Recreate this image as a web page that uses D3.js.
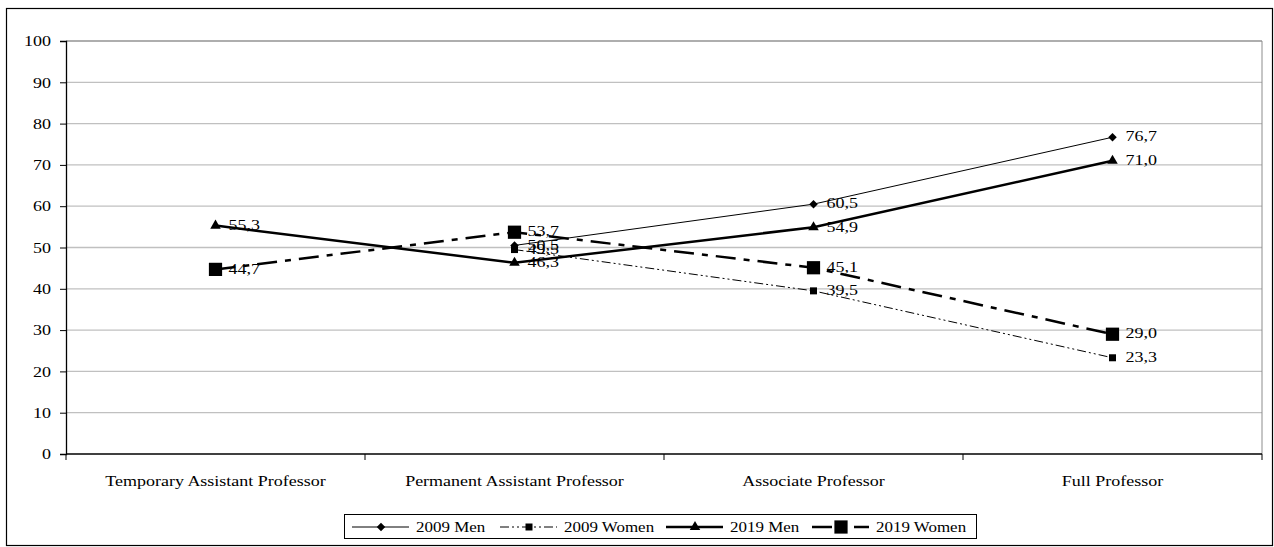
<!DOCTYPE html>
<html><head><meta charset="utf-8">
<script src="https://cdn.jsdelivr.net/npm/d3@7"></script>
<style>body{margin:0;background:#fff}svg{display:block}text{font-family:"Liberation Serif","Times New Roman",serif;fill:#000}</style>
</head><body><svg id="c" width="1274" height="547"></svg>
<script>
const categories = ["Temporary Assistant Professor","Permanent Assistant Professor","Associate Professor","Full Professor"];
const men2009 = [null, 50.5, 60.5, 76.7];
const women2009 = [null, 49.5, 39.5, 23.3];
const men2019 = [55.3, 46.3, 54.9, 71.0];
const women2019 = [44.7, 53.7, 45.1, 29.0];
const yTicks = [0,10,20,30,40,50,60,70,80,90,100];
const seriesNames = ["2009 Men","2009 Women","2019 Men","2019 Women"];

const series = [
  {name: seriesNames[0], values: men2009, width: 1, dash: null, marker: "diamond", size: 36},
  {name: seriesNames[1], values: women2009, width: 1, dash: "9,3,2,3,2,3", marker: "square", size: 49},
  {name: seriesNames[2], values: men2019, width: 2.5, dash: null, marker: "triangle", size: 48},
  {name: seriesNames[3], values: women2019, width: 2.5, dash: "20,8,6,8", marker: "square", size: 175}
];

const FS = "15px";
const svg = d3.select("#c");
const L = 66, R = 1262, T = 41, B = 454;

function stext(g, x0, y0, str, anchor, sx) {
  return g.append("text").attr("transform", `translate(${x0},${y0}) scale(${sx || 1.2},1)`)
    .attr("text-anchor", anchor || "start").attr("dy","0.35em").style("font-size",FS).text(str);
}

svg.append("rect").attr("x",6.5).attr("y",8.5).attr("width",1266).attr("height",537)
  .attr("fill","none").attr("stroke","#000").attr("stroke-width",1.2);

const x = d3.scaleBand().domain(categories).range([L,R]).paddingInner(0).paddingOuter(0);
const y = d3.scaleLinear().domain([0,100]).range([B,T]);

// gridlines
svg.append("g").selectAll("line").data(yTicks.filter(d=>d>0)).join("line")
  .attr("x1",L).attr("x2",R).attr("y1",d=>y(d)).attr("y2",d=>y(d))
  .attr("stroke","#c0c0c0").attr("stroke-width",1.3);
svg.append("line").attr("x1",R).attr("x2",R).attr("y1",T).attr("y2",B).attr("stroke","#8c8c8c").attr("stroke-width",1);
svg.append("line").attr("x1",L).attr("x2",R).attr("y1",T).attr("y2",T).attr("stroke","#8c8c8c").attr("stroke-width",1);

// y axis
const yAxis = d3.axisLeft(y).tickValues(yTicks).tickSize(6).tickFormat("");
const gy = svg.append("g").attr("transform",`translate(${L},0)`).call(yAxis);
gy.select(".domain").attr("stroke","#000").attr("stroke-width",1.3);
gy.selectAll(".tick line").attr("stroke","#000");
const gyl = svg.append("g");
yTicks.forEach(t => stext(gyl, L-15, y(t), d3.format("d")(t), "end"));

// x axis
const boundaries = d3.range(categories.length+1).map(i => L + i*x.bandwidth());
const gx = svg.append("g");
gx.append("line").attr("x1",L).attr("x2",R).attr("y1",B).attr("y2",B).attr("stroke","#000").attr("stroke-width",1.5);
gx.selectAll("line.t").data(boundaries).join("line").attr("class","t")
  .attr("x1",d=>d).attr("x2",d=>d).attr("y1",B).attr("y2",B+6).attr("stroke","#000");
categories.forEach(c => stext(gx, x(c)+x.bandwidth()/2, B+27, c, "middle"));

const symType = {diamond: d3.symbolSquare, square: d3.symbolSquare, triangle: d3.symbolTriangle};
const rot = m => m === "diamond" ? " rotate(45)" : "";
const cx = c => x(c)+x.bandwidth()/2;

series.forEach(s => {
  const pts = categories.map((c,i)=>({c, v:s.values[i]})).filter(p=>p.v!=null);
  const line = d3.line().x(p=>cx(p.c)).y(p=>y(p.v));
  svg.append("path").datum(pts).attr("d",line).attr("fill","none").attr("stroke","#000")
    .attr("stroke-width",s.width).attr("stroke-dasharray",s.dash);
  svg.append("g").selectAll("path").data(pts).join("path")
    .attr("d",d3.symbol().type(symType[s.marker]).size(s.size))
    .attr("transform",p=>`translate(${cx(p.c)},${y(p.v)})${rot(s.marker)}`).attr("fill","#000");
  const lg = svg.append("g");
  pts.forEach(p => stext(lg, cx(p.c)+13, y(p.v)-1, d3.format(".1f")(p.v).replace(".",",")));
});

// legend
const lg = svg.append("g");
lg.append("rect").attr("x",344.5).attr("y",514.5).attr("width",632).attr("height",24)
  .attr("fill","#fff").attr("stroke","#000").attr("stroke-width",1);
const legX = [352, 500, 666, 812];
series.forEach((s,i) => {
  const x0 = legX[i], ly = 527;
  lg.append("line").attr("x1",x0).attr("x2",x0+57).attr("y1",ly).attr("y2",ly)
    .attr("stroke","#000").attr("stroke-width",s.width).attr("stroke-dasharray",s.dash);
  lg.append("path").attr("d",d3.symbol().type(symType[s.marker]).size(s.size))
    .attr("transform",`translate(${x0+29},${ly})${rot(s.marker)}`).attr("fill","#000");
  stext(lg, x0+64, ly, s.name, "start", 1.13);
});
</script></body></html>
